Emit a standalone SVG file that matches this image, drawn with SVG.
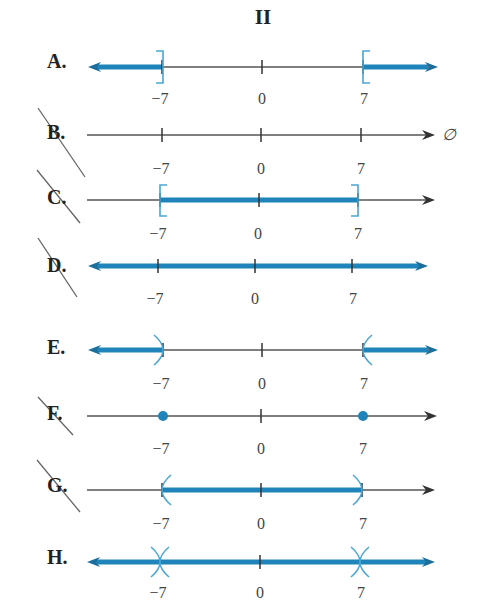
<svg xmlns="http://www.w3.org/2000/svg" width="490" height="602" viewBox="0 0 490 602">
<style>
.lbl{font-family:"Liberation Serif",serif;font-weight:bold;font-size:20px;fill:#222}
.num{font-family:"Liberation Serif",serif;font-size:16px;fill:#444;text-anchor:middle}
.axis{stroke:#555;stroke-width:1.4;fill:none}
.tick{stroke:#333;stroke-width:1.5}
.blue{stroke:#1f84b9;stroke-width:5;fill:none}
.brk{stroke:#4aa6d4;stroke-width:1.6;fill:none}
.ah{fill:#333}
.ahb{fill:#1c6f9c}
.slash{stroke:#666;stroke-width:1.3}
</style>
<defs>
<path id="arR" d="M0 0 L-13 -5 L-9 0 L-13 5 Z"/>
<path id="arL" d="M0 0 L13 -5 L9 0 L13 5 Z"/>
</defs>
<rect width="490" height="602" fill="#fff"/>
<text x="263" y="24" text-anchor="middle" style="font-family:'Liberation Serif',serif;font-weight:bold;font-size:21px;fill:#222">II</text>

<g id="rowA">
<text class="lbl" x="47" y="68">A.</text>
<line class="axis" x1="95" y1="67" x2="430" y2="67"/>
<line class="blue" x1="96" y1="67" x2="162" y2="67"/>
<line class="blue" x1="363" y1="67" x2="428" y2="67"/>
<use href="#arL" x="88" y="67" class="ahb"/>
<use href="#arR" x="438" y="67" class="ahb"/>
<line class="tick" x1="162" y1="60" x2="162" y2="74"/>
<line class="tick" x1="262" y1="60" x2="262" y2="74"/>
<line class="tick" x1="363" y1="60" x2="363" y2="74"/>
<path class="brk" d="M156 51 H163 V83 H156"/>
<path class="brk" d="M370 51 H363 V83 H370"/>
<text class="num" x="160" y="104">−7</text>
<text class="num" x="262" y="104">0</text>
<text class="num" x="364" y="104">7</text>
</g>

<g id="rowB">
<line class="slash" x1="38" y1="108" x2="85" y2="177"/>
<text class="lbl" x="47" y="139">B.</text>
<line class="axis" x1="87" y1="135" x2="428" y2="135"/>
<use href="#arR" x="435" y="135" class="ah"/>
<line class="tick" x1="162" y1="128" x2="162" y2="142"/>
<line class="tick" x1="261" y1="128" x2="261" y2="142"/>
<line class="tick" x1="361" y1="128" x2="361" y2="142"/>
<text x="449" y="140" text-anchor="middle" style="font-family:'Liberation Serif',serif;font-style:italic;font-size:16px;fill:#444">∅</text>
<text class="num" x="161" y="174">−7</text>
<text class="num" x="261" y="174">0</text>
<text class="num" x="361" y="174">7</text>
</g>

<g id="rowC">
<line class="slash" x1="37" y1="170" x2="80" y2="223"/>
<text class="lbl" x="47" y="204">C.</text>
<line class="axis" x1="87" y1="200" x2="428" y2="200"/>
<use href="#arR" x="435" y="200" class="ah"/>
<line class="blue" x1="160" y1="200" x2="358" y2="200"/>
<line class="tick" x1="160" y1="193" x2="160" y2="207"/>
<line class="tick" x1="259" y1="193" x2="259" y2="207"/>
<line class="tick" x1="358" y1="193" x2="358" y2="207"/>
<path class="brk" d="M167 185 H160 V216 H167"/>
<path class="brk" d="M351 185 H358 V216 H351"/>
<text class="num" x="158" y="239">−7</text>
<text class="num" x="258" y="239">0</text>
<text class="num" x="358" y="239">7</text>
</g>

<g id="rowD">
<line class="slash" x1="38" y1="238" x2="77" y2="297"/>
<text class="lbl" x="47" y="272">D.</text>
<line class="blue" x1="96" y1="266" x2="420" y2="266"/>
<use href="#arL" x="88" y="266" class="ahb"/>
<use href="#arR" x="428" y="266" class="ahb"/>
<line class="tick" x1="158" y1="259" x2="158" y2="273"/>
<line class="tick" x1="255" y1="259" x2="255" y2="273"/>
<line class="tick" x1="352" y1="259" x2="352" y2="273"/>
<text class="num" x="155" y="304">−7</text>
<text class="num" x="255" y="304">0</text>
<text class="num" x="353" y="304">7</text>
</g>

<g id="rowE">
<text class="lbl" x="47" y="354">E.</text>
<line class="axis" x1="95" y1="350" x2="430" y2="350"/>
<line class="blue" x1="96" y1="350" x2="163" y2="350"/>
<line class="blue" x1="363" y1="350" x2="428" y2="350"/>
<use href="#arL" x="88" y="350" class="ahb"/>
<use href="#arR" x="438" y="350" class="ahb"/>
<line class="tick" x1="163" y1="343" x2="163" y2="357"/>
<line class="tick" x1="262" y1="343" x2="262" y2="357"/>
<line class="tick" x1="363" y1="343" x2="363" y2="357"/>
<path class="brk" d="M154 335 Q172 350 154 365"/>
<path class="brk" d="M372 335 Q354 350 372 365"/>
<text class="num" x="161" y="389">−7</text>
<text class="num" x="262" y="389">0</text>
<text class="num" x="364" y="389">7</text>
</g>

<g id="rowF">
<line class="slash" x1="38" y1="397" x2="73" y2="435"/>
<text class="lbl" x="47" y="420">F.</text>
<line class="axis" x1="87" y1="416" x2="430" y2="416"/>
<use href="#arR" x="437" y="416" class="ah"/>
<line class="tick" x1="261" y1="409" x2="261" y2="423"/>
<circle cx="163" cy="416" r="5" fill="#1f84b9"/>
<circle cx="363" cy="416" r="5" fill="#1f84b9"/>
<text class="num" x="161" y="454">−7</text>
<text class="num" x="261" y="454">0</text>
<text class="num" x="363" y="454">7</text>
</g>

<g id="rowG">
<line class="slash" x1="37" y1="460" x2="80" y2="512"/>
<text class="lbl" x="47" y="492">G.</text>
<line class="axis" x1="87" y1="490" x2="428" y2="490"/>
<use href="#arR" x="435" y="490" class="ah"/>
<line class="blue" x1="162" y1="490" x2="362" y2="490"/>
<line class="tick" x1="162" y1="483" x2="162" y2="497"/>
<line class="tick" x1="261" y1="483" x2="261" y2="497"/>
<line class="tick" x1="362" y1="483" x2="362" y2="497"/>
<path class="brk" d="M171 475 Q153 490 171 505"/>
<path class="brk" d="M353 475 Q371 490 353 505"/>
<text class="num" x="161" y="529">−7</text>
<text class="num" x="261" y="529">0</text>
<text class="num" x="363" y="529">7</text>
</g>

<g id="rowH">
<text class="lbl" x="47" y="564">H.</text>
<line class="blue" x1="95" y1="562" x2="427" y2="562"/>
<use href="#arL" x="87" y="562" class="ahb"/>
<use href="#arR" x="435" y="562" class="ahb"/>
<line class="tick" x1="260" y1="555" x2="260" y2="569"/>
<path class="brk" d="M151 547 Q169 562 151 577 M169 547 Q151 562 169 577"/>
<path class="brk" d="M351 547 Q369 562 351 577 M369 547 Q351 562 369 577"/>
<text class="num" x="158" y="598">−7</text>
<text class="num" x="260" y="598">0</text>
<text class="num" x="361" y="598">7</text>
</g>
</svg>
